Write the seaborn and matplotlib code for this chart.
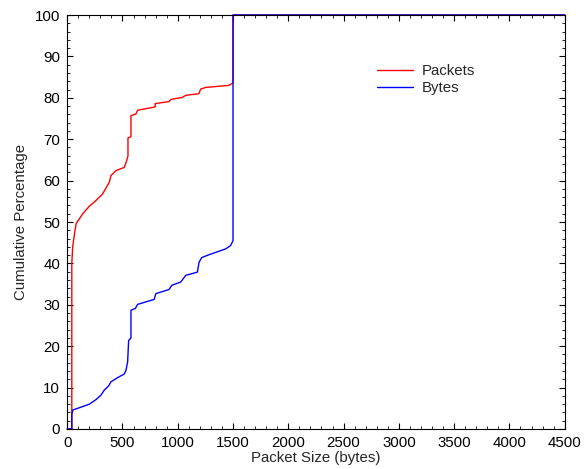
import matplotlib
matplotlib.use("Agg")
import matplotlib.pyplot as plt
from matplotlib.ticker import MultipleLocator
import seaborn as sns
import pandas as pd

packets_x = [0, 42, 42, 50, 66, 81, 141, 200, 261, 321, 381, 396, 441, 517, 538, 550, 550, 577, 577,
             622, 637, 796, 796, 922, 937, 1042, 1072, 1192, 1207, 1252, 1462, 1500, 1500, 4500]
packets_y = [0, 0, 40, 44, 47.1, 49.6, 52, 53.8, 55.2, 56.8, 59.6, 61.2, 62.4, 63.2, 64.8, 66, 70.3, 70.6, 75.7,
             76.1, 77, 77.8, 78.6, 79.1, 79.6, 80.1, 80.6, 81, 82.1, 82.5, 83, 83.6, 100, 100]

bytes_x = [0, 42, 42, 51, 96, 201, 261, 306, 336, 375, 396, 456, 517, 532, 547, 556, 571, 577, 577,
           616, 637, 787, 802, 922, 946, 1027, 1072, 1178, 1193, 1217, 1283, 1433, 1478, 1500, 1500, 4500]
bytes_y = [0, 0, 3.5, 4.6, 5, 6, 7.1, 8.2, 9.4, 10.4, 11.4, 12.4, 13.3, 14.2, 16.2, 21.4, 21.8, 22, 28.7,
           29.1, 30.1, 31.3, 32.7, 33.7, 34.7, 35.5, 37.1, 37.9, 40.3, 41.4, 42.1, 43.5, 44.3, 45.5, 100, 100]

series_names = ["Packets", "Bytes"]
x_ticks = [0, 500, 1000, 1500, 2000, 2500, 3000, 3500, 4000, 4500]
y_ticks = [0, 10, 20, 30, 40, 50, 60, 70, 80, 90, 100]

sns.set_theme(style="ticks")
plt.rcParams['font.family'] = ['Liberation Sans', 'DejaVu Sans']
FS = 10.8

df = pd.concat([
    pd.DataFrame({"x": packets_x, "y": packets_y, "series": series_names[0]}),
    pd.DataFrame({"x": bytes_x, "y": bytes_y, "series": series_names[1]}),
], ignore_index=True)

fig = plt.figure(figsize=(5.84, 4.69), dpi=100)
ax = fig.add_axes([0.115, 0.0853, 0.852, 0.8827])

sns.lineplot(data=df, x="x", y="y", hue="series", palette={"Packets": "red", "Bytes": "blue"},
             estimator=None, sort=False, linewidth=1.0, ax=ax, legend=True)
for ln in ax.lines:
    ln.set_clip_on(False)

ax.set_xlim(0, 4500)
ax.set_ylim(0, 100)
ax.set_xticks(x_ticks)
ax.set_yticks(y_ticks)
ax.xaxis.set_minor_locator(MultipleLocator(100))
ax.yaxis.set_minor_locator(MultipleLocator(2))
ax.tick_params(which="both", direction="in", top=True, right=True, labelsize=FS, colors="black")
ax.tick_params(which="major", length=4, width=0.8, pad=5)
ax.tick_params(which="minor", length=2, width=0.6)
for s in ax.spines.values():
    s.set_color("black")
    s.set_linewidth(0.8)

ax.set_xlabel("Packet Size (bytes)", fontsize=FS, labelpad=1)
ax.set_ylabel("Cumulative Percentage", fontsize=FS, labelpad=5)

leg = ax.legend(loc="upper left", bbox_to_anchor=(0.596, 0.914), frameon=False, fontsize=FS,
                handlelength=2.4, handletextpad=0.6, labelspacing=0.2)

fig.savefig("out.png", dpi=100)
